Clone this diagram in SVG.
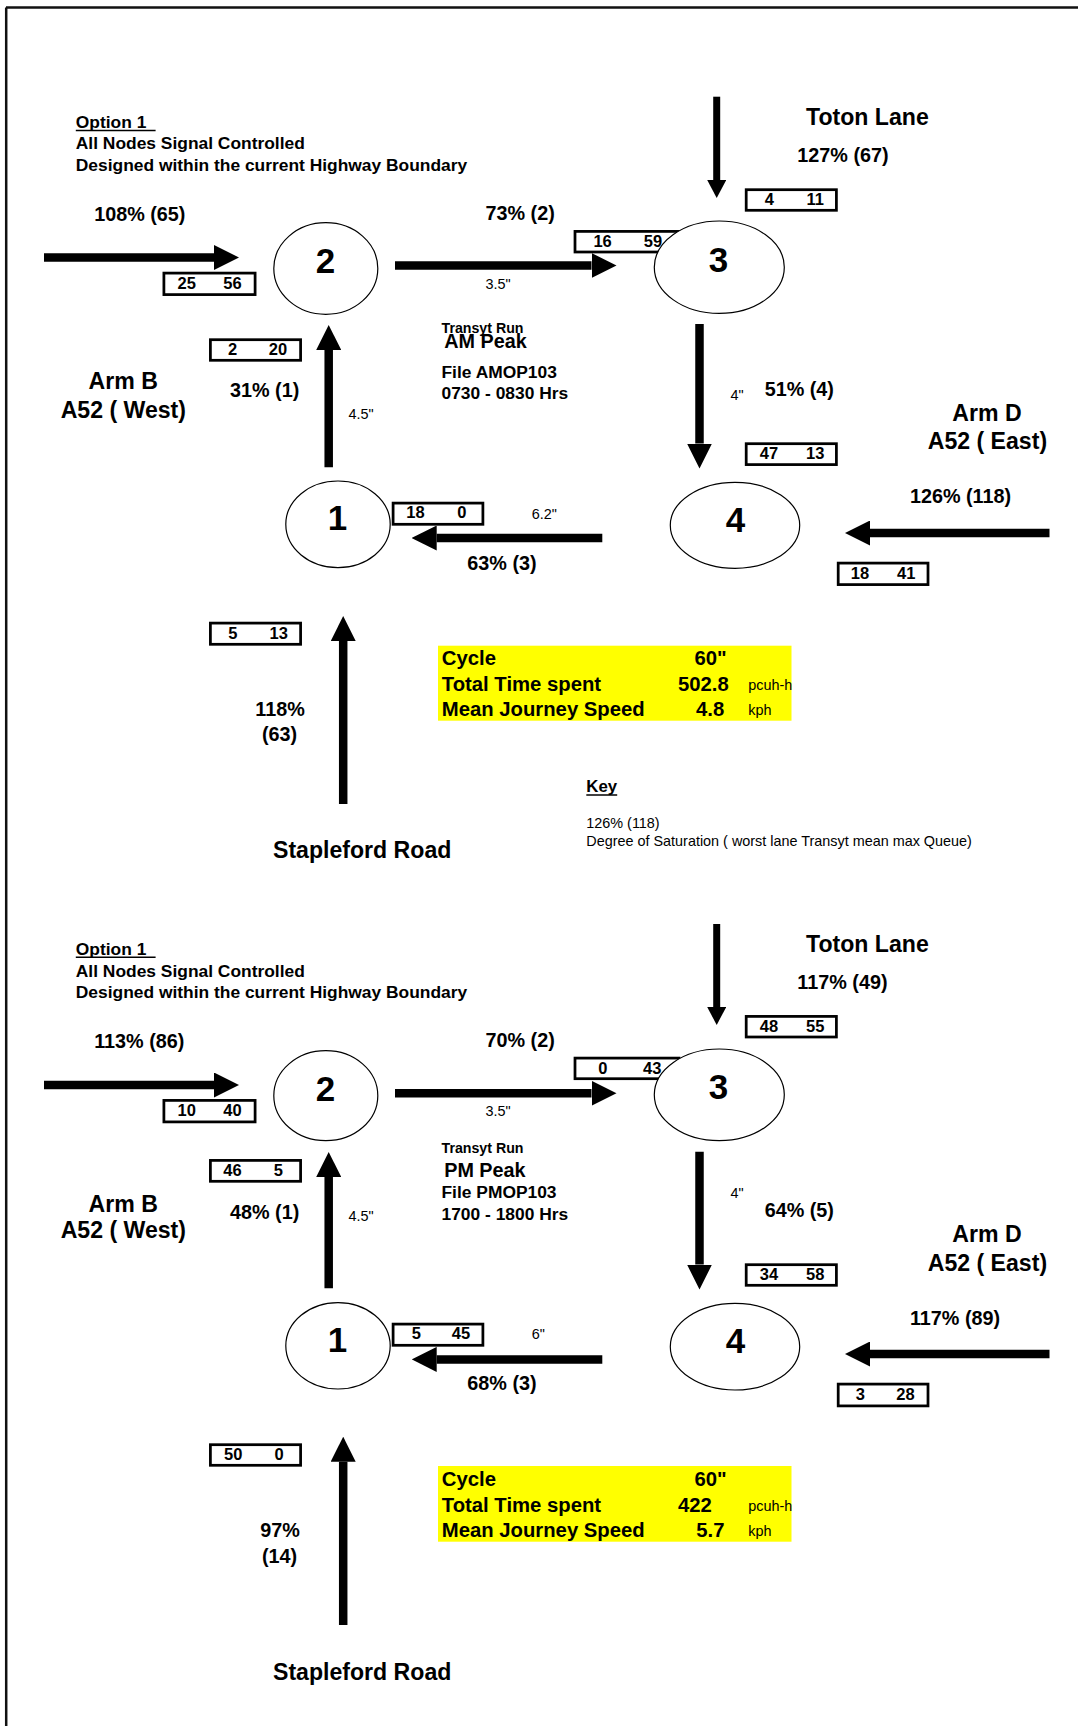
<svg xmlns="http://www.w3.org/2000/svg" width="1078" height="1726" viewBox="0 0 1078 1726">
<style>
text{font-family:"Liberation Sans",Arial,sans-serif;fill:#000}
.h{font-size:17.4px;font-weight:bold}
.p{font-size:19.8px;font-weight:bold}
.r{font-size:23.1px;font-weight:bold}
.s{font-size:14.4px}
.tr{font-size:14.2px;font-weight:bold}
.pk{font-size:19.8px;font-weight:bold}
.b{font-size:16.5px;font-weight:bold;text-anchor:middle}
.n{font-size:35px;font-weight:bold;text-anchor:middle}
.y{font-size:20.3px;font-weight:bold}
.m{text-anchor:middle}
.box{fill:#fff;stroke:#000;stroke-width:2.75}
.node{fill:#fff;stroke:#000;stroke-width:1.2}
.sh{stroke:#000;stroke-width:8.5;fill:none}
.shs{stroke:#000;stroke-width:7;fill:none}
.ul{stroke:#000;stroke-width:1.5}
</style>
<defs>
<marker id="ah" markerUnits="userSpaceOnUse" viewBox="0 0 25 25" markerWidth="25" markerHeight="25" refX="0" refY="12.5" orient="auto"><path d="M0,0 L25,12.5 L0,25 Z" fill="#000"/></marker>
<marker id="ahs" markerUnits="userSpaceOnUse" viewBox="0 0 18 19" markerWidth="18" markerHeight="19" refX="0" refY="9.5" orient="auto"><path d="M0,0 L18,9.5 L0,19 Z" fill="#000"/></marker>
</defs>
<rect width="1078" height="1726" fill="#fff"/>
<g id="frame">
<line x1="6" y1="7.5" x2="1078" y2="7.5" stroke="#111" stroke-width="2.5"/>
<line x1="6.2" y1="7.5" x2="6.2" y2="1726" stroke="#111" stroke-width="2.5"/>
</g>

<!-- ===== AM ===== -->
<g id="connectors-am">
<line class="sh" x1="44" y1="257.5" x2="214" y2="257.5" marker-end="url(#ah)"/>
<line class="sh" x1="395" y1="265.5" x2="591.5" y2="265.5" marker-end="url(#ah)"/>
<line class="shs" x1="716.7" y1="96.7" x2="716.7" y2="180" marker-end="url(#ahs)"/>
<line class="sh" x1="699.5" y1="324" x2="699.5" y2="443.5" marker-end="url(#ah)"/>
<line class="sh" x1="1049.5" y1="533" x2="870" y2="533" marker-end="url(#ah)"/>
<line class="sh" x1="602.3" y1="538" x2="436.7" y2="538" marker-end="url(#ah)"/>
<line class="sh" x1="328.7" y1="467.3" x2="328.7" y2="350" marker-end="url(#ah)"/>
<line class="sh" x1="343.2" y1="804" x2="343.2" y2="641" marker-end="url(#ah)"/>
</g>
<g id="queues-am">
<g id="q-am-w"><rect class="box" x="163.9" y="273.1" width="91.2" height="21.5"/><text class="b" x="186.7" y="289">25</text><text class="b" x="232.5" y="289">56</text></g>
<g id="q-am-12"><rect class="box" x="210.4" y="339.7" width="90.2" height="20.6"/><text class="b" x="232.5" y="355">2</text><text class="b" x="278" y="355">20</text></g>
<g id="q-am-n"><rect class="box" x="746.2" y="189.7" width="90.2" height="20.6"/><text class="b" x="769.3" y="205">4</text><text class="b" x="815.3" y="205">11</text></g>
<g id="q-am-23"><rect class="box" x="575" y="231.4" width="104" height="20.6"/><text class="b" x="602.6" y="246.7">16</text><text class="b" x="653" y="246.7">59</text></g>
<g id="q-am-34"><rect class="box" x="746.2" y="443.7" width="90.2" height="20.9"/><text class="b" x="769" y="459">47</text><text class="b" x="815.3" y="459">13</text></g>
<g id="q-am-e"><rect class="box" x="838.2" y="563.1" width="89.8" height="21.5"/><text class="b" x="859.9" y="579.3">18</text><text class="b" x="906.2" y="579.3">41</text></g>
<g id="q-am-41"><rect class="box" x="393.1" y="503.1" width="89.8" height="21.2"/><text class="b" x="415.4" y="518.3">18</text><text class="b" x="461.9" y="518.3">0</text></g>
<g id="q-am-s"><rect class="box" x="210.4" y="623.1" width="90.2" height="21.2"/><text class="b" x="232.9" y="639">5</text><text class="b" x="278.7" y="639">13</text></g>
</g>
<g id="node-am-2"><ellipse class="node" cx="325.8" cy="268.5" rx="52" ry="45.8"/><text class="n" x="325.4" y="272.7">2</text></g>
<g id="node-am-3"><ellipse class="node" cx="719.3" cy="267.2" rx="65" ry="46.2"/><text class="n" x="718.4" y="271.7">3</text></g>
<g id="node-am-4"><ellipse class="node" cx="735" cy="525.3" rx="64.7" ry="43"/><text class="n" x="735.6" y="531.7">4</text></g>
<g id="node-am-1"><ellipse class="node" cx="338" cy="524.3" rx="52.2" ry="43.3"/><text class="n" x="337.5" y="530">1</text></g>
<g id="labels-am">
<text class="h" x="75.8" y="128.3">Option 1</text>
<line class="ul" x1="75.8" y1="130.6" x2="155.6" y2="130.6"/>
<text class="h" x="75.8" y="149">All Nodes Signal Controlled</text>
<text class="h" x="75.8" y="170.7">Designed within the current Highway Boundary</text>
<text class="p" x="94.2" y="220.7">108% (65)</text>
<text class="p" x="485.5" y="220">73% (2)</text>
<text class="r" x="806" y="125">Toton Lane</text>
<text class="p" x="797.3" y="162.3">127% (67)</text>
<text class="s" x="485.5" y="289">3.5"</text>
<text class="tr" x="441.5" y="332.7">Transyt Run</text>
<text class="pk" x="444.2" y="348.3">AM Peak</text>
<text class="h" x="441.5" y="378.3">File AMOP103</text>
<text class="h" x="441.5" y="399">0730 - 0830 Hrs</text>
<text class="r m" x="123.2" y="389">Arm B</text>
<text class="r m" x="123.3" y="418.3">A52 ( West)</text>
<text class="p" x="230" y="397">31% (1)</text>
<text class="s" x="348.5" y="419">4.5"</text>
<text class="s" x="730.4" y="400">4"</text>
<text class="p" x="764.7" y="396">51% (4)</text>
<text class="r m" x="987" y="420.7">Arm D</text>
<text class="r m" x="987.4" y="449.3">A52 ( East)</text>
<text class="p" x="909.9" y="503.3">126% (118)</text>
<text class="s" x="531.7" y="519">6.2"</text>
<text class="p" x="467.3" y="570">63% (3)</text>
<text class="p m" x="280" y="716">118%</text>
<text class="p m" x="279.6" y="741">(63)</text>
<text class="r" x="273" y="858.3">Stapleford Road</text>
</g>
<g id="summary-am">
<rect x="438" y="645.7" width="353.5" height="75" fill="#ffff00"/>
<text class="y" x="441.8" y="665">Cycle</text>
<text class="y" x="441.8" y="690.7">Total Time spent</text>
<text class="y" x="441.8" y="716">Mean Journey Speed</text>
<text class="y" x="694.5" y="665">60"</text>
<text class="y" x="678" y="690.7">502.8</text>
<text class="y" x="696" y="716">4.8</text>
<text class="s" x="748.3" y="690">pcuh-h</text>
<text class="s" x="748.3" y="715">kph</text>
</g>
<g id="key">
<text x="586.3" y="792.3" style="font-size:16.8px;font-weight:bold">Key</text>
<line class="ul" x1="586.3" y1="795" x2="617.2" y2="795"/>
<text class="s" x="586.3" y="828.3">126% (118)</text>
<text class="s" x="586.3" y="845.7">Degree of Saturation ( worst lane Transyt mean max Queue)</text>
</g>

<!-- ===== PM ===== -->
<g id="connectors-pm">
<line class="sh" x1="44" y1="1085" x2="214" y2="1085" marker-end="url(#ah)"/>
<line class="sh" x1="395" y1="1093.3" x2="591.5" y2="1093.3" marker-end="url(#ah)"/>
<line class="shs" x1="716.7" y1="924" x2="716.7" y2="1007" marker-end="url(#ahs)"/>
<line class="sh" x1="699.5" y1="1151.7" x2="699.5" y2="1264.5" marker-end="url(#ah)"/>
<line class="sh" x1="1049.5" y1="1354" x2="870" y2="1354" marker-end="url(#ah)"/>
<line class="sh" x1="602.3" y1="1359.4" x2="436.7" y2="1359.4" marker-end="url(#ah)"/>
<line class="sh" x1="328.7" y1="1288.3" x2="328.7" y2="1177" marker-end="url(#ah)"/>
<line class="sh" x1="343.2" y1="1625" x2="343.2" y2="1461.7" marker-end="url(#ah)"/>
</g>
<g id="queues-pm">
<g id="q-pm-w"><rect class="box" x="163.9" y="1100.4" width="91.2" height="21.5"/><text class="b" x="186.7" y="1115.7">10</text><text class="b" x="232.5" y="1115.7">40</text></g>
<g id="q-pm-12"><rect class="box" x="210.4" y="1160.4" width="90.2" height="20.9"/><text class="b" x="232.5" y="1176">46</text><text class="b" x="278.4" y="1176">5</text></g>
<g id="q-pm-n"><rect class="box" x="746.2" y="1016.4" width="90.2" height="20.6"/><text class="b" x="769" y="1031.7">48</text><text class="b" x="815.3" y="1031.7">55</text></g>
<g id="q-pm-23"><rect class="box" x="575" y="1058.1" width="104" height="20.6"/><text class="b" x="602.9" y="1074">0</text><text class="b" x="652.3" y="1074">43</text></g>
<g id="q-pm-34"><rect class="box" x="746.2" y="1264.7" width="90.2" height="20.6"/><text class="b" x="769" y="1280">34</text><text class="b" x="815.3" y="1280">58</text></g>
<g id="q-pm-e"><rect class="box" x="838.2" y="1384.1" width="89.8" height="21.8"/><text class="b" x="860.3" y="1400">3</text><text class="b" x="905.5" y="1400">28</text></g>
<g id="q-pm-41"><rect class="box" x="393.1" y="1324.1" width="89.8" height="21.2"/><text class="b" x="416.3" y="1339.3">5</text><text class="b" x="461" y="1339.3">45</text></g>
<g id="q-pm-s"><rect class="box" x="210.4" y="1444.7" width="90.2" height="20.6"/><text class="b" x="233.2" y="1460">50</text><text class="b" x="279" y="1460">0</text></g>
</g>
<g id="node-pm-2"><ellipse class="node" cx="325.8" cy="1095.7" rx="52" ry="45"/><text class="n" x="325.4" y="1100.7">2</text></g>
<g id="node-pm-3"><ellipse class="node" cx="719.3" cy="1094.8" rx="65" ry="45.8"/><text class="n" x="718.4" y="1099.3">3</text></g>
<g id="node-pm-4"><ellipse class="node" cx="735" cy="1346.7" rx="64.7" ry="43.3"/><text class="n" x="735.6" y="1353.3">4</text></g>
<g id="node-pm-1"><ellipse class="node" cx="338" cy="1345.8" rx="52.2" ry="43.2"/><text class="n" x="337.5" y="1351.7">1</text></g>
<g id="labels-pm">
<text class="h" x="75.8" y="955">Option 1</text>
<line class="ul" x1="75.8" y1="957.3" x2="155.6" y2="957.3"/>
<text class="h" x="75.8" y="976.7">All Nodes Signal Controlled</text>
<text class="h" x="75.8" y="998.3">Designed within the current Highway Boundary</text>
<text class="p" x="94.2" y="1048.3">113% (86)</text>
<text class="p" x="485.5" y="1046.7">70% (2)</text>
<text class="r" x="806" y="951.7">Toton Lane</text>
<text class="p" x="797.3" y="989.3">117% (49)</text>
<text class="s" x="485.5" y="1115.7">3.5"</text>
<text class="tr" x="441.5" y="1153.3">Transyt Run</text>
<text class="pk" x="444.2" y="1177.3">PM Peak</text>
<text class="h" x="441.5" y="1198.3">File PMOP103</text>
<text class="h" x="441.5" y="1220">1700 - 1800 Hrs</text>
<text class="r m" x="123.2" y="1211.7">Arm B</text>
<text class="r m" x="123.3" y="1238.3">A52 ( West)</text>
<text class="p" x="230" y="1219.3">48% (1)</text>
<text class="s" x="348.5" y="1220.7">4.5"</text>
<text class="s" x="730.4" y="1198.3">4"</text>
<text class="p" x="764.7" y="1217.3">64% (5)</text>
<text class="r m" x="987" y="1241.7">Arm D</text>
<text class="r m" x="987.4" y="1270.7">A52 ( East)</text>
<text class="p" x="909.9" y="1325">117% (89)</text>
<text class="s" x="531.7" y="1339">6"</text>
<text class="p" x="467.3" y="1390">68% (3)</text>
<text class="p m" x="280" y="1537.3">97%</text>
<text class="p m" x="279.6" y="1563.3">(14)</text>
<text class="r" x="273" y="1680">Stapleford Road</text>
</g>
<g id="summary-pm">
<rect x="438" y="1466" width="353.5" height="75.7" fill="#ffff00"/>
<text class="y" x="441.8" y="1485.7">Cycle</text>
<text class="y" x="441.8" y="1511.7">Total Time spent</text>
<text class="y" x="441.8" y="1536.7">Mean Journey Speed</text>
<text class="y" x="694.5" y="1485.7">60"</text>
<text class="y" x="678" y="1511.7">422</text>
<text class="y" x="696.3" y="1536.7">5.7</text>
<text class="s" x="748.3" y="1511">pcuh-h</text>
<text class="s" x="748.3" y="1536">kph</text>
</g>
</svg>
